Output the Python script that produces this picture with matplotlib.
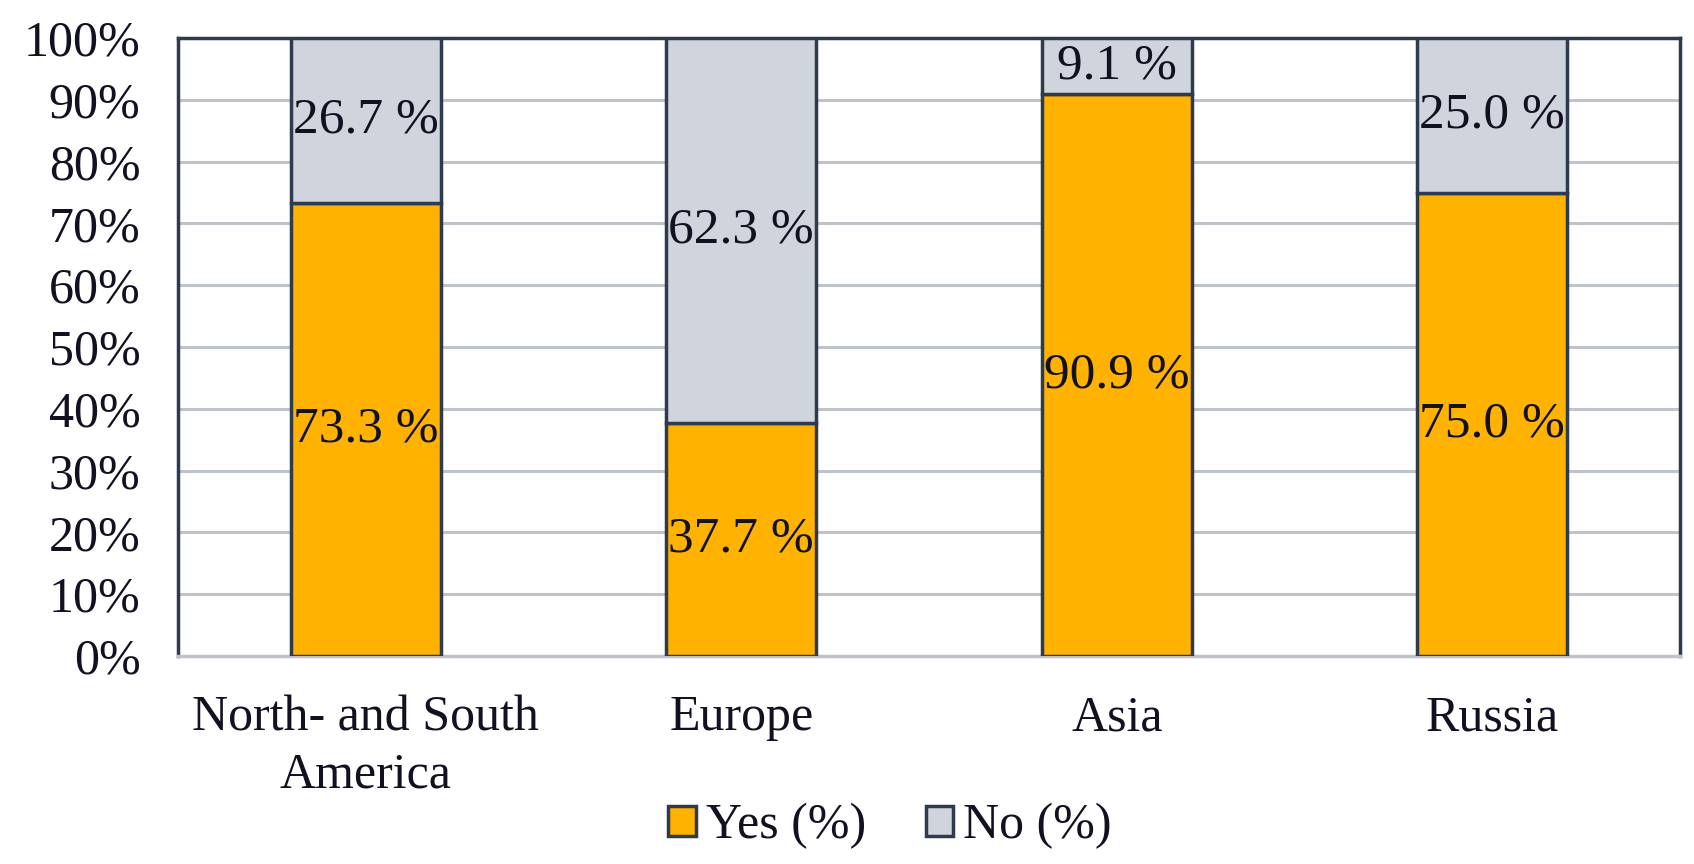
import matplotlib
matplotlib.use("Agg")
import matplotlib.pyplot as plt
import numpy as np

categories = ["North- and South\nAmerica", "Europe", "Asia", "Russia"]
yes_vals = [73.3, 37.7, 90.9, 75.0]
no_vals = [26.7, 62.3, 9.1, 25.0]
yticks = [0, 10, 20, 30, 40, 50, 60, 70, 80, 90, 100]

plt.rcParams['font.family'] = ['Liberation Serif', 'DejaVu Serif']

fig = plt.figure(figsize=(16.94, 8.64), dpi=100)
ax = fig.add_axes([178/1694, 1 - 656/864, (1680-178)/1694, (656-38)/864])

yes_c = "#FFB300"
no_c = "#D0D4DC"
edge = "#2E3A4E"
txt = "#111122"
x = np.arange(len(categories))
w = 0.40

b1 = ax.bar(x, yes_vals, w, color=yes_c, edgecolor=edge, linewidth=2.5, label="Yes (%)", zorder=3)
b2 = ax.bar(x, no_vals, w, bottom=yes_vals, color=no_c, edgecolor=edge, linewidth=2.5, label="No (%)", zorder=3)

for i in range(len(categories)):
    ax.text(x[i], yes_vals[i] / 2, f"{yes_vals[i]:.1f} %", ha="center", va="center", fontsize=37, color=txt, zorder=4)
    ax.text(x[i], yes_vals[i] + no_vals[i] / 2, f"{no_vals[i]:.1f} %", ha="center", va="center", fontsize=37, color=txt, zorder=4)

ax.set_xlim(-0.5, 3.5)
ax.set_ylim(0, 100)
ax.set_yticks(yticks)
ax.set_yticklabels([f"{t}%" for t in yticks], fontsize=36, color=txt)
ax.set_xticks(x)
ax.set_xticklabels(categories, fontsize=36, color=txt, linespacing=1.3)
ax.tick_params(axis="both", length=0)
ax.tick_params(axis="x", pad=28)
ax.tick_params(axis="y", pad=27)
ax.yaxis.grid(True, color="#BFC3CA", linewidth=2.2, zorder=0)
ax.set_axisbelow(True)
for s in ["top", "left", "right"]:
    ax.spines[s].set_color(edge)
    ax.spines[s].set_linewidth(2.5)
ax.spines["bottom"].set_color("#BFC3CA")
ax.spines["bottom"].set_linewidth(2.5)

leg = fig.legend(handles=[b1, b2], loc="center", bbox_to_anchor=(890/1694, 1 - 826/864), ncol=2,
                 frameon=False, fontsize=36, handlelength=0.55, handleheight=0.55, handletextpad=0.2,
                 columnspacing=1.2, labelcolor=txt)

fig.savefig("out.png", dpi=100)
